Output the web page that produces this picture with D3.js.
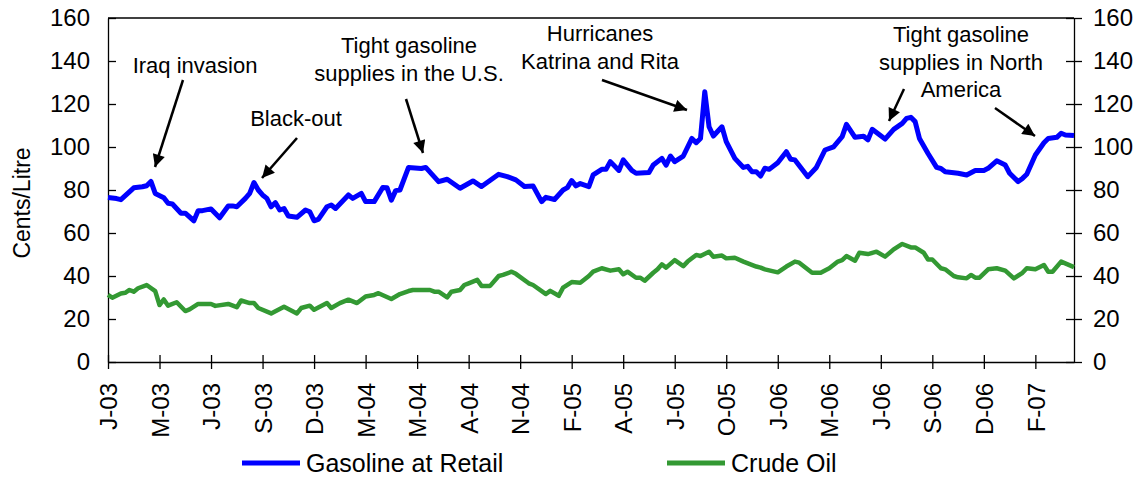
<!DOCTYPE html>
<meta charset="utf-8">
<body style="margin:0;background:#fff">
<style>
text { font-family: "Liberation Sans", Arial, sans-serif; fill: #000; }
.axis path, .axis line { stroke: #000; stroke-width: 1.3px; }
.note { font-size: 22px; text-anchor: middle; }
</style>
<script src="https://d3js.org/d3.v7.min.js"></script>
<script>

// week index (since J-03) and cents/litre
var gasWeeks = [0,2,3,6,8,9,10,11,13,14,15,17,18,20,21,22,24,26,28,29,30,32,33,34,35,36,37,38,39,40,41,42,44,46,47,48,49,51,52,53,56,57,59,60,62,64,65,66,67,68,70,73,74,77,79,82,85,87,91,93,95,97,99,101,102,104,106,107,108,109,110,112,113,115,116,117,119,120,122,123,126,127,129,130,131,132,134,136,137,138,139,140,141,143,144,146,148,149,150,151,152,153,154,156,158,159,160,163,165,167,169,171,172,174,176,177,178,181,183,185,186,187,188,189,191,193,194,195,198,200,202,204,205,207,209,210,212,213,214,216,218,219,221,222,223,225];
var gasoline = [76.5,76,75.5,81,81.5,82,84,78.4,76.4,73.8,73.5,69.2,69.2,65.7,70.4,70.4,71.2,67.1,72.6,72.6,72.2,76.1,78.4,83.5,80,77.7,76.1,72.2,74.1,70.7,71.4,67.9,67.3,70.7,69.9,65.7,66.3,72.2,73,71.4,77.7,76.1,78.4,74.6,74.6,81.2,81,75.3,79.7,80,90.5,90,90.5,83.9,85,80.8,84.2,81.6,87.3,86.2,84.7,81.6,81.9,74.6,76.6,75.6,80,81.1,84.4,81.9,83,81.6,87,89.6,89.6,93.2,89.1,94,89.1,87.8,88.1,91.6,94.7,91.6,95.8,93.2,95.8,104,102,104,125.7,109.4,105.1,109.4,102.5,94.7,90.5,91,88.5,88.5,86.5,90.1,89.6,92.7,97.8,94.3,94,86.2,90.5,98.6,100.1,104.8,110.5,104.5,105,103.3,108.2,103.7,108.2,111,113.3,113.8,111.8,104,97,90.5,90,88.5,87.8,87,89.1,89.1,90.1,93.6,91.6,87.8,83.9,85.4,87.3,96.3,102,104,104.5,106.4,105.6,105.3];

var crudeWeeks = [0,1,3,4,5,6,7,9,11,12,13,14,16,18,19,21,24,25,28,30,31,33,34,35,38,41,44,45,47,48,51,52,54,56,58,60,62,63,66,68,70,71,75,76,77,79,80,82,83,84,86,87,89,91,92,94,95,98,99,102,103,105,106,108,110,112,113,115,117,119,120,121,123,124,125,127,128,129,130,132,134,135,137,138,140,141,143,144,146,148,151,152,153,156,158,160,161,164,166,168,170,171,172,174,175,177,179,181,183,185,187,188,190,191,192,194,195,197,198,200,201,202,203,205,207,209,211,213,214,216,218,219,220,222,225];
var crude = [31.2,29.9,31.9,32.2,33.5,32.7,34.3,35.8,33,26.5,29.1,26.2,27.8,23.7,24.5,27,27,26.1,27,25.5,28.6,27.4,27.4,25.1,22.6,25.7,22.6,25.1,26.2,24.3,27.4,25.1,27.4,29,27.4,30.5,31.2,32,29.3,31.6,33,33.5,33.5,32.7,32.7,30.1,32.7,33.5,35.8,36.6,38.2,35.4,35.4,40,40.5,42,41,36.6,35.8,31.6,33.1,30.8,34.6,37.2,36.9,40,42,43.6,42.5,43.1,40.8,42,39.2,39.2,37.8,41.5,43.1,45.4,43.9,47.4,44.6,46.7,49.8,49.3,51.3,49,49.5,48.2,48.5,46.7,44.4,43.9,43.1,41.7,44.4,46.7,46.2,41.5,41.5,43.6,46.7,47.4,49.3,47.1,50.8,50.2,51.3,49,52.4,54.9,53.3,53.3,50.8,47.7,47.7,43.6,43.1,40,39.4,38.9,40.5,39.2,39.2,43.1,43.6,42.5,38.9,41.5,43.6,43.1,45.1,42,42,46.7,44.1];

var tickWeeks = [0,12,24,36,48,60,72,84,96,108,120,132,144,156,168,180,192,204,216];
var tickLabels = ["J-03","M-03","J-03","S-03","D-03","M-04","M-04","A-04","N-04","F-05","A-05","J-05","O-05","J-06","M-06","J-06","S-06","D-06","F-07"];
var yTicks = [0,20,40,60,80,100,120,140,160];

var seriesNames = ["Gasoline at Retail", "Crude Oil"];
var seriesColors = ["#0000ff", "#339933"];

var svg = d3.select("body").append("svg")
    .attr("width", 1144)
    .attr("height", 478);

var x = d3.scaleLinear().domain([0, 225]).range([108, 1074]);
var y = d3.scaleLinear().domain([0, 160]).range([362, 18]);

// frame top line
svg.append("line")
    .attr("x1", x(0)).attr("x2", x(225))
    .attr("y1", y(160)).attr("y2", y(160))
    .attr("stroke", "#000").attr("stroke-width", 1.3);

// left axis
var yl = svg.append("g").attr("class", "axis")
    .attr("transform", "translate(" + x(0) + ",0)")
    .call(d3.axisLeft(y).tickValues(yTicks).tickSize(8).tickPadding(10).tickSizeOuter(0));
yl.selectAll(".tick line").attr("x2", 8);
yl.selectAll("text").style("font-size", "24px");

// right axis
var yr = svg.append("g").attr("class", "axis")
    .attr("transform", "translate(" + x(225) + ",0)")
    .call(d3.axisRight(y).tickValues(yTicks).tickSize(8).tickPadding(11).tickSizeOuter(0));
yr.selectAll(".tick line").attr("x2", 8).attr("x1", -8);
yr.selectAll("text").style("font-size", "24px");

// bottom axis
var xa = svg.append("g").attr("class", "axis")
    .attr("transform", "translate(0," + y(0) + ")")
    .call(d3.axisBottom(x).tickValues(tickWeeks)
      .tickFormat(function(d, i) { return tickLabels[i]; })
      .tickSize(7).tickSizeOuter(0));
xa.selectAll(".tick line").attr("y1", -7);
xa.selectAll("text")
    .style("font-size", "24px")
    .attr("text-anchor", "end")
    .attr("transform", "rotate(-90)")
    .attr("x", -21).attr("y", 0).attr("dy", "0.36em");

svg.append("text")
    .attr("transform", "translate(30,203) rotate(-90)")
    .attr("text-anchor", "middle")
    .style("font-size", "23px")
    .text("Cents/Litre");

var line = d3.line()
    .x(function(d) { return x(d[0]); })
    .y(function(d) { return y(d[1]); })
    .curve(d3.curveLinear);

svg.append("path")
    .datum(crudeWeeks.map(function(w, i) { return [w, crude[i]]; }))
    .attr("d", line)
    .attr("fill", "none")
    .attr("stroke", seriesColors[1])
    .attr("stroke-width", 4.5)
    .attr("stroke-linejoin", "round");

svg.append("path")
    .datum(gasWeeks.map(function(w, i) { return [w, gasoline[i]]; }))
    .attr("d", line)
    .attr("fill", "none")
    .attr("stroke", seriesColors[0])
    .attr("stroke-width", 5)
    .attr("stroke-linejoin", "round");

// annotations
var defs = svg.append("defs");
defs.append("marker")
    .attr("id", "head")
    .attr("viewBox", "0 0 10 10")
    .attr("refX", 10).attr("refY", 5)
    .attr("markerWidth", 6).attr("markerHeight", 5)
    .attr("markerUnits", "strokeWidth")
    .attr("orient", "auto")
  .append("path")
    .attr("d", "M0,0L10,5L0,10Z")
    .attr("fill", "#000");

var notes = [
  {lines: ["Iraq invasion"], cx: 195, base: 73},
  {lines: ["Black-out"], cx: 296, base: 126},
  {lines: ["Tight gasoline", "supplies in the U.S."], cx: 409, base: 53},
  {lines: ["Hurricanes", "Katrina and Rita"], cx: 600, base: 41},
  {lines: ["Tight gasoline", "supplies in North", "America"], cx: 961, base: 42}
];
var arrows = [
  [183, 80, 155, 167],
  [297, 138, 262, 178],
  [406, 99, 423, 153],
  [602, 80, 687, 110],
  [904, 89, 889, 121],
  [995, 108, 1035, 136]
];

notes.forEach(function(n) {
  var t = svg.append("text").attr("class", "note");
  n.lines.forEach(function(s, i) {
    t.append("tspan").attr("x", n.cx).attr("y", n.base + i * 27.5).text(s);
  });
});

svg.selectAll(".arrow")
    .data(arrows)
  .enter().append("line")
    .attr("class", "arrow")
    .attr("x1", function(d) { return d[0]; })
    .attr("y1", function(d) { return d[1]; })
    .attr("x2", function(d) { return d[2]; })
    .attr("y2", function(d) { return d[3]; })
    .attr("stroke", "#000")
    .attr("stroke-width", 2.5)
    .attr("marker-end", "url(#head)");

// legend
var legendX = [242, 667];
var lg = svg.selectAll(".legend")
    .data(seriesNames)
  .enter().append("g")
    .attr("class", "legend")
    .attr("transform", function(d, i) { return "translate(" + legendX[i] + ",463)"; });
lg.append("line")
    .attr("x1", 0).attr("x2", 58)
    .attr("stroke", function(d, i) { return seriesColors[i]; })
    .attr("stroke-width", 5);
lg.append("text")
    .attr("x", 64).attr("dy", "0.36em")
    .style("font-size", "25px")
    .text(function(d) { return d; });

</script>
</body>
</html>
